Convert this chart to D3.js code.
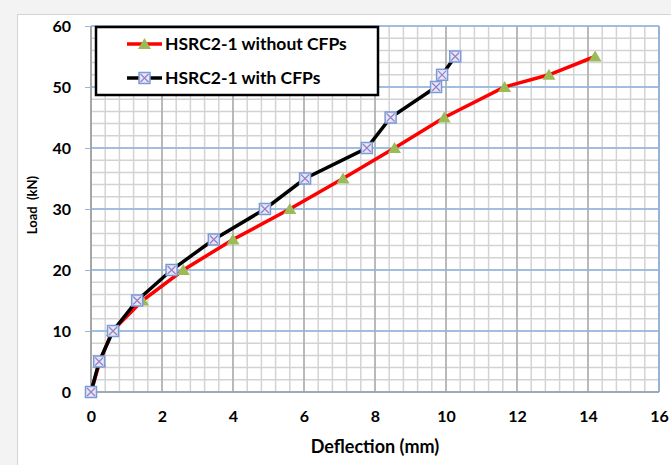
<!DOCTYPE html>
<html lang="en">
<head>
    <meta charset="UTF-8">
    <title>Load vs Deflection</title>
    <script src="https://d3js.org/d3.v7.min.js"></script>
    <style>
        body {
            margin: 0;
            background: #f3f3f3;
        }
        text {
            font-family: Lato, "Open Sans", sans-serif;
            font-weight: bold;
            fill: #000;
        }
    </style>
</head>
<body>
    <svg width="671" height="465"></svg>
    <script>
        // data
        var loads = [0, 5, 10, 15, 20, 25, 30, 35, 40, 45, 50, 52, 55];
        var defWithout = [0, 0.25, 0.6, 1.45, 2.6, 4.0, 5.6, 7.1, 8.55, 9.95, 11.65, 12.9, 14.2];
        var defWith = [0, 0.23, 0.62, 1.3, 2.27, 3.46, 4.9, 6.03, 7.77, 8.44, 9.72, 9.89, 10.26];
        var xTicks = [0, 2, 4, 6, 8, 10, 12, 14, 16];
        var yTicks = [0, 10, 20, 30, 40, 50, 60];
        var seriesNames = ["HSRC2-1 without CFPs", "HSRC2-1 with CFPs"];

        var svg = d3.select("svg");

        // chart area
        svg.append("rect")
            .attr("x", 17.5).attr("y", 14.5)
            .attr("width", 700).attr("height", 500)
            .attr("fill", "white")
            .attr("stroke", "#d4d4d4");

        var x = d3.scaleLinear().domain([0, 16]).range([91, 659]);
        var y = d3.scaleLinear().domain([0, 60]).range([392, 26]);

        var grid = svg.append("g");

        // minor grid
        grid.selectAll(".vminor")
            .data(d3.range(0, 41).map(function(i) { return i * 0.4; }))
            .enter().append("line")
            .attr("x1", function(d) { return x(d); })
            .attr("x2", function(d) { return x(d); })
            .attr("y1", y(0)).attr("y2", y(60))
            .attr("stroke", "#d3d3d3").attr("stroke-width", 1.5);

        grid.selectAll(".hminor")
            .data(d3.range(0, 31).map(function(i) { return i * 2; }))
            .enter().append("line")
            .attr("y1", function(d) { return y(d); })
            .attr("y2", function(d) { return y(d); })
            .attr("x1", x(0)).attr("x2", x(16))
            .attr("stroke", "#d3d3d3").attr("stroke-width", 1.5);

        // major grid
        grid.selectAll(".vmajor")
            .data(xTicks)
            .enter().append("line")
            .attr("x1", function(d) { return x(d); })
            .attr("x2", function(d) { return x(d); })
            .attr("y1", y(0)).attr("y2", y(60))
            .attr("stroke", "#a0a0a0").attr("stroke-width", 1.2);

        grid.selectAll(".hmajor")
            .data(yTicks)
            .enter().append("line")
            .attr("y1", function(d) { return y(d); })
            .attr("y2", function(d) { return y(d); })
            .attr("x1", x(0)).attr("x2", x(16))
            .attr("stroke", "#8db3e2").attr("stroke-width", 1.3);

        // right border blue, axes gray
        grid.append("line")
            .attr("x1", x(16)).attr("x2", x(16)).attr("y1", y(0)).attr("y2", y(60))
            .attr("stroke", "#8db3e2").attr("stroke-width", 1.5);
        grid.append("line")
            .attr("x1", x(0)).attr("x2", x(16)).attr("y1", y(0)).attr("y2", y(0))
            .attr("stroke", "#a0a0a0").attr("stroke-width", 1.5);
        grid.append("line")
            .attr("x1", x(0)).attr("x2", x(0)).attr("y1", y(0)).attr("y2", y(60))
            .attr("stroke", "#a0a0a0").attr("stroke-width", 1.5);

        // axes
        var xAxis = svg.append("g")
            .attr("transform", "translate(0," + y(0) + ")")
            .call(d3.axisBottom(x).tickValues(xTicks).tickSize(0).tickPadding(19));
        xAxis.select(".domain").remove();
        xAxis.selectAll("text").attr("font-size", 16).style("font-family", "Lato, sans-serif").style("font-weight", "bold");

        var yAxis = svg.append("g")
            .attr("transform", "translate(" + x(0) + ",0)")
            .call(d3.axisLeft(y).tickValues(yTicks).tickSize(6).tickPadding(14));
        yAxis.select(".domain").remove();
        yAxis.selectAll("line").attr("stroke", "#9fb4d0");
        yAxis.selectAll("text").attr("font-size", 16).style("font-family", "Lato, sans-serif").style("font-weight", "bold");

        svg.append("text")
            .attr("x", 375).attr("y", 453)
            .attr("text-anchor", "middle")
            .attr("font-size", 18)
            .text("Deflection (mm)");

        svg.append("text")
            .attr("transform", "translate(37,205) rotate(-90)")
            .attr("text-anchor", "middle")
            .attr("font-size", 13)
            .attr("xml:space", "preserve")
            .text("Load  (kN)");

        // lines
        var line = d3.line()
            .x(function(d) { return x(d[0]); })
            .y(function(d) { return y(d[1]); });

        var redPts = defWithout.map(function(d, i) { return [d, loads[i]]; });
        var blackPts = defWith.map(function(d, i) { return [d, loads[i]]; });

        function triangle(g, cx, cy) {
            g.append("path")
                .attr("d", "M" + cx + "," + (cy - 6) + "L" + (cx + 6.5) + "," + (cy + 5) + "L" + (cx - 6.5) + "," + (cy + 5) + "Z")
                .attr("fill", "#9bbb59");
        }
        function square(g, cx, cy) {
            g.append("rect")
                .attr("x", cx - 5.5).attr("y", cy - 5.5)
                .attr("width", 11).attr("height", 11)
                .attr("fill", "#e4e8f6")
                .attr("stroke", "#7b9ad6").attr("stroke-width", 1.5);
            g.append("path")
                .attr("d", "M" + (cx - 4) + "," + (cy - 4) + "L" + (cx + 4) + "," + (cy + 4) + "M" + (cx + 4) + "," + (cy - 4) + "L" + (cx - 4) + "," + (cy + 4))
                .attr("stroke", "#9a7cc8").attr("stroke-width", 1.2);
        }

        svg.append("path")
            .datum(redPts)
            .attr("d", line)
            .attr("fill", "none")
            .attr("stroke", "#ff0000")
            .attr("stroke-width", 3.5);
        var redMarks = svg.append("g");
        redPts.forEach(function(p) { triangle(redMarks, x(p[0]), y(p[1])); });

        svg.append("path")
            .datum(blackPts)
            .attr("d", line)
            .attr("fill", "none")
            .attr("stroke", "#000")
            .attr("stroke-width", 3.5);
        var blackMarks = svg.append("g");
        blackPts.forEach(function(p) { square(blackMarks, x(p[0]), y(p[1])); });

        // legend
        var legend = svg.append("g");
        legend.append("rect")
            .attr("x", 96).attr("y", 27)
            .attr("width", 282).attr("height", 68)
            .attr("fill", "white")
            .attr("stroke", "#000").attr("stroke-width", 2.5);

        legend.append("line")
            .attr("x1", 127).attr("x2", 162).attr("y1", 44).attr("y2", 44)
            .attr("stroke", "#ff0000").attr("stroke-width", 3.5);
        triangle(legend, 144.5, 44);
        legend.append("text")
            .attr("x", 165).attr("y", 50)
            .attr("font-size", 17.5)
            .text(seriesNames[0]);

        legend.append("line")
            .attr("x1", 127).attr("x2", 162).attr("y1", 78).attr("y2", 78)
            .attr("stroke", "#000").attr("stroke-width", 3.5);
        square(legend, 144.5, 78);
        legend.append("text")
            .attr("x", 165).attr("y", 84)
            .attr("font-size", 17.5)
            .text(seriesNames[1]);
    </script>
</body>
</html>
